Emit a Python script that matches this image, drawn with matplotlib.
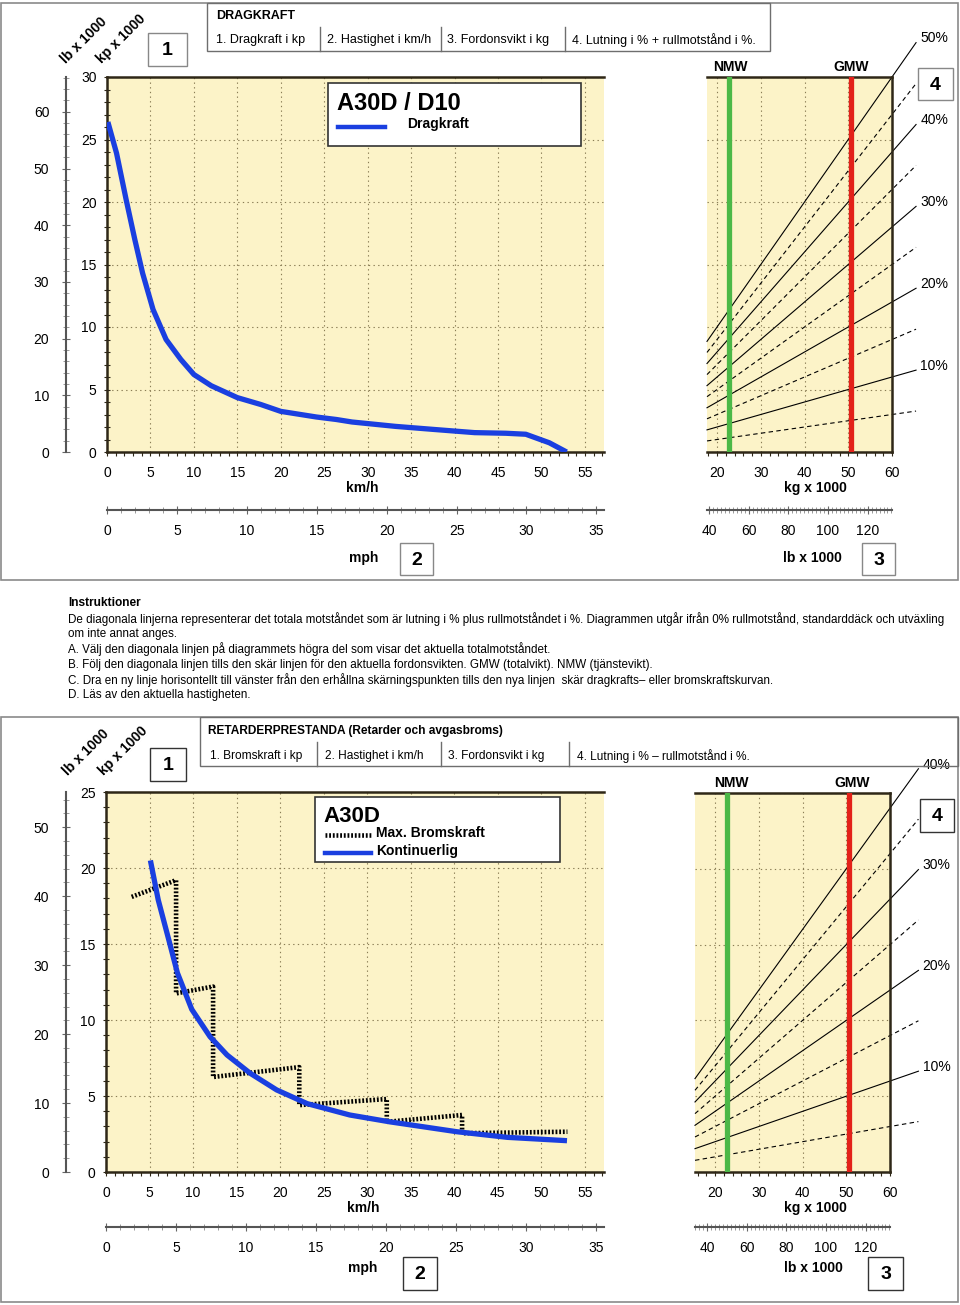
import numpy as np
import matplotlib
matplotlib.use("Agg")
import matplotlib.pyplot as plt
from matplotlib.patches import Rectangle
from matplotlib.lines import Line2D
from matplotlib.ticker import MultipleLocator, FixedLocator

# ---- data ----
drag_kmh = [0.1, 1.1, 2.2, 3.2, 4.1, 5.3, 6.8, 8.5, 10.0, 12.0, 15.0, 17.7, 20.0,
            24.1, 26.4, 28.2, 33.2, 37.7, 42.3, 45.9, 48.2, 50.9, 52.9]
drag_kp = [26.4, 23.9, 20.2, 17.0, 14.3, 11.4, 9.0, 7.4, 6.2, 5.3, 4.35, 3.8, 3.25,
           2.8, 2.6, 2.4, 2.05, 1.8, 1.55, 1.5, 1.42, 0.74, 0.0]

kont_kmh = [5.1, 6.0, 7.2, 8.2, 9.85, 11.95, 13.9, 16.55, 19.6, 23.1, 28.0, 32.6, 40.3, 46.1, 52.95]
kont_kp = [20.5, 17.9, 15.3, 13.1, 10.7, 8.9, 7.7, 6.5, 5.4, 4.5, 3.75, 3.3, 2.65, 2.28, 2.06]

maxb_kmh = [2.95, 8.05, 8.05, 12.3, 12.3, 22.2, 22.2, 32.25, 32.25, 40.9, 40.9, 53.0]
maxb_kp = [18.1, 19.2, 11.75, 12.2, 6.25, 6.9, 4.4, 4.8, 3.3, 3.75, 2.55, 2.65]

top_solid = [10, 20, 30, 40, 50]
top_dashed = [5, 15, 25, 35, 45]
bot_solid = [10, 20, 30, 40]
bot_dashed = [5, 15, 25, 35]
NMW, GMW = 22.7, 50.7

lb_ticks_top = [0, 10, 20, 30, 40, 50, 60]
lb_ticks_bot = [0, 10, 20, 30, 40, 50]
mph_ticks = [0, 5, 10, 15, 20, 25, 30, 35]
lbw_ticks = [40, 60, 80, 100, 120]

hdr_top = ["1. Dragkraft i kp", "2. Hastighet i km/h", "3. Fordonsvikt i kg",
           "4. Lutning i % + rullmotstånd i %."]
hdr_bot = ["1. Bromskraft i kp", "2. Hastighet i km/h", "3. Fordonsvikt i kg",
           "4. Lutning i % – rullmotstånd i %."]
instr = [
    "De diagonala linjerna representerar det totala motståndet som är lutning i % plus rullmotståndet i %. Diagrammen utgår ifrån 0% rullmotstånd, standarddäck och utväxling",
    "om inte annat anges.",
    "A. Välj den diagonala linjen på diagrammets högra del som visar det aktuella totalmotståndet.",
    "B. Följ den diagonala linjen tills den skär linjen för den aktuella fordonsvikten. GMW (totalvikt). NMW (tjänstevikt).",
    "C. Dra en ny linje horisontellt till vänster från den erhållna skärningspunkten tills den nya linjen  skär dragkrafts– eller bromskraftskurvan.",
    "D. Läs av den aktuella hastigheten.",
]

KP2LB = 2.20462
KMH2MPH = 1 / 1.609344

YELLOW = "#fcf3c8"
DARK = "#2e2717"
GRIDC = "#8a7d55"
BLUE = "#1a3fe0"
GREEN = "#4cb847"
RED = "#e32119"

plt.rcParams["font.family"] = ["Liberation Sans", "DejaVu Sans"]
plt.rcParams["font.size"] = 10

W, H = 960, 1305
fig = plt.figure(figsize=(W / 100, H / 100), dpi=100)
fig.patch.set_facecolor("white")


def fx(x):
    return x / W


def fy(y):
    return 1 - y / H


def pax(x0, y0, x1, y1):
    return fig.add_axes([x0 / W, 1 - y1 / H, (x1 - x0) / W, (y1 - y0) / H])


def box(x0, y0, x1, y1, ec="#777777", lw=1.0, fc="none", z=5):
    fig.add_artist(Rectangle((fx(x0), fy(y1)), (x1 - x0) / W, (y1 - y0) / H,
                             transform=fig.transFigure, fc=fc, ec=ec, lw=lw, zorder=z))


def fline(x0, y0, x1, y1, **kw):
    kw.setdefault("zorder", 6)
    fig.add_artist(Line2D([fx(x0), fx(x1)], [fy(y0), fy(y1)], transform=fig.transFigure, **kw))


def txt(x, y, s, **kw):
    kw.setdefault("va", "center")
    fig.text(fx(x), fy(y), s, zorder=7, **kw)


def numbox(x0, y0, x1, y1, s, ec="#888888"):
    box(x0, y0, x1, y1, ec=ec, lw=1.0, fc="white")
    txt((x0 + x1) / 2, (y0 + y1) / 2 + 1, s, ha="center", fontsize=14, fontweight="bold")


def style(ax, xlim, ylim, xmaj, xmin, ymaj, ymin, spines, ylabels):
    ax.set_facecolor(YELLOW)
    ax.set_xlim(*xlim)
    ax.set_ylim(*ylim)
    for s in ["left", "right", "top", "bottom"]:
        ax.spines[s].set_visible(s in spines)
        ax.spines[s].set_color(DARK)
        ax.spines[s].set_linewidth(1.8)
    ax.xaxis.set_major_locator(MultipleLocator(xmaj))
    ax.xaxis.set_minor_locator(MultipleLocator(xmin))
    ax.yaxis.set_major_locator(MultipleLocator(ymaj))
    ax.yaxis.set_minor_locator(MultipleLocator(ymin))
    ax.grid(True, which="major", color=GRIDC, lw=0.8, ls=(0, (1.2, 3)))
    ax.tick_params(axis="x", which="both", direction="out", length=3, width=0.8,
                   color=DARK, pad=7, labelsize=10)
    if ylabels:
        ax.tick_params(axis="y", which="both", direction="inout", length=5, width=0.8,
                       color=DARK, pad=5, labelsize=10)
    else:
        ax.tick_params(axis="y", which="both", length=0, labelleft=False)


def sec_style(sec, axis, ticks, mino, pad):
    spine = "left" if axis == "y" else "bottom"
    sec.spines[spine].set_color("#555555")
    sec.spines[spine].set_linewidth(1.5)
    a = sec.yaxis if axis == "y" else sec.xaxis
    a.set_major_locator(FixedLocator(ticks))
    a.set_minor_locator(MultipleLocator(mino))
    sec.tick_params(which="major", direction="inout", length=6, width=0.8,
                    color="#666666", pad=pad, labelsize=10)
    sec.tick_params(which="minor", direction="inout", length=4, width=0.6, color="#888888")


def grade_lines(ax, solid, dashed, x0, x1, text_dy):
    xs = np.array([x0, x1])
    for p in dashed:
        ax.plot(xs, xs * p / 100, color="black", lw=0.8, ls=(0, (4, 3)), clip_on=False, zorder=2)
    for p in solid:
        ax.plot(xs, xs * p / 100, color="black", lw=0.8, clip_on=False, zorder=2)
        ax.annotate(f"{p}%", (x1, x1 * p / 100), xytext=(3, text_dy), textcoords="offset points",
                    ha="left", va="center", fontsize=10, annotation_clip=False)
    ax.axvline(NMW, color=GREEN, lw=3.8, zorder=3)
    ax.axvline(GMW, color=RED, lw=3.8, zorder=3)


# =================== TOP PANEL ===================
box(1, 3, 958, 580, ec="#8a8a8a", lw=1.2, z=1)
box(207, 3, 770, 51, ec="#6e6e6e", lw=1.0)
for xs in [320, 441, 565]:
    fline(xs, 27, xs, 51, color="#6e6e6e", lw=1.0)
txt(216, 16, "DRAGKRAFT", fontsize=9, fontweight="bold")
for xs, s in zip([216, 327, 447, 572], hdr_top):
    txt(xs, 40, s, fontsize=9)
numbox(148, 33, 187, 66, "1")
txt(84, 40, "lb x 1000", ha="center", rotation=45, fontsize=10, fontweight="bold")
txt(121, 39, "kp x 1000", ha="center", rotation=45, fontsize=10, fontweight="bold")

ax1 = pax(107, 77, 604, 452)
style(ax1, (0, 57.2), (0, 30), 5, 1, 5, 1, ["left", "top", "bottom"], True)
ax1.plot(drag_kmh, drag_kp, color=BLUE, lw=3.8, solid_capstyle="butt", zorder=4)
lb1 = ax1.secondary_yaxis(-0.0825, functions=(lambda k: k * KP2LB, lambda l: l / KP2LB))
sec_style(lb1, "y", lb_ticks_top, 2, 9)
mph1 = ax1.secondary_xaxis(-0.1547, functions=(lambda k: k * KMH2MPH, lambda m: m / KMH2MPH))
sec_style(mph1, "x", mph_ticks, 1, 7)

box(328, 83, 581, 146, ec="#333333", lw=1.2, fc="white")
txt(337, 103, "A30D / D10", fontsize=17, fontweight="bold")
fline(338, 127, 385, 127, color=BLUE, lw=3.2)
txt(407, 124, "Dragkraft", fontsize=10, fontweight="bold")
txt(362, 488, "km/h", ha="center", fontsize=10, fontweight="bold")
txt(364, 558, "mph", ha="center", fontsize=10, fontweight="bold")
numbox(400, 543, 433, 575, "2")

ax2 = pax(707, 77, 892, 452)
style(ax2, (17.7, 60), (0, 30), 10, 2, 5, 1, ["right", "top", "bottom"], False)
grade_lines(ax2, top_solid, top_dashed, 17.7, 65.5, 3)
lb2 = ax2.secondary_xaxis(-0.1547, functions=(lambda k: k * KP2LB, lambda l: l / KP2LB))
sec_style(lb2, "x", lbw_ticks, 2, 7)
txt(730, 67, "NMW", ha="center", fontsize=10, fontweight="bold")
txt(851, 67, "GMW", ha="center", fontsize=10, fontweight="bold")
numbox(918, 68, 953, 100, "4")
txt(815, 488, "kg x 1000", ha="center", fontsize=10, fontweight="bold")
txt(812, 558, "lb x 1000", ha="center", fontsize=10, fontweight="bold")
numbox(862, 543, 895, 575, "3")

# =================== INSTRUCTIONS ===================
txt(68, 603, "Instruktioner", fontsize=8.6, fontweight="bold")
for i, line in enumerate(instr):
    txt(68, 619 + i * 15.2, line, fontsize=8.4)

# =================== BOTTOM PANEL ===================
box(1, 717, 958, 1302, ec="#8a8a8a", lw=1.2, z=1)
box(200, 717, 958, 766, ec="#6e6e6e", lw=1.0)
for xs in [317, 441, 569]:
    fline(xs, 742, xs, 766, color="#6e6e6e", lw=1.0)
txt(208, 731, "RETARDERPRESTANDA (Retarder och avgasbroms)", fontsize=8.6, fontweight="bold")
for xs, s in zip([210, 325, 448, 577], hdr_bot):
    txt(xs, 756, s, fontsize=8.6)
numbox(150, 748, 186, 781, "1", ec="#333333")
txt(86, 752, "lb x 1000", ha="center", rotation=45, fontsize=10, fontweight="bold")
txt(123, 751, "kp x 1000", ha="center", rotation=45, fontsize=10, fontweight="bold")

ax3 = pax(106, 792, 604, 1172)
style(ax3, (0, 57.2), (0, 25), 5, 1, 5, 1, ["left", "top", "bottom"], True)
ax3.plot(maxb_kmh, maxb_kp, color="black", lw=3.3, ls=(0, (0.4, 0.4)), zorder=4)
ax3.plot(kont_kmh, kont_kp, color=BLUE, lw=3.8, solid_capstyle="butt", zorder=5)
lb3 = ax3.secondary_yaxis(-0.0803, functions=(lambda k: k * KP2LB, lambda l: l / KP2LB))
sec_style(lb3, "y", lb_ticks_bot, 2, 9)
mph3 = ax3.secondary_xaxis(-0.1447, functions=(lambda k: k * KMH2MPH, lambda m: m / KMH2MPH))
sec_style(mph3, "x", mph_ticks, 1, 7)

box(315, 797, 560, 862, ec="#333333", lw=1.2, fc="white")
txt(323, 817, "A30D", fontsize=16, fontweight="bold")
fline(325, 835, 371, 835, color="black", lw=3.3, ls=(0, (0.4, 0.4)))
txt(376, 833, "Max. Bromskraft", fontsize=10, fontweight="bold")
fline(325, 853, 371, 853, color=BLUE, lw=3.2)
txt(376, 851, "Kontinuerlig", fontsize=10, fontweight="bold")
txt(363, 1208, "km/h", ha="center", fontsize=10, fontweight="bold")
txt(363, 1268, "mph", ha="center", fontsize=10, fontweight="bold")
numbox(403, 1257, 437, 1290, "2", ec="#333333")

ax4 = pax(695, 793, 890, 1172)
style(ax4, (15.4, 60), (0, 25), 10, 2, 5, 1, ["right", "top", "bottom"], False)
grade_lines(ax4, bot_solid, bot_dashed, 15.4, 66.5, 3)
lb4 = ax4.secondary_xaxis(-0.1447, functions=(lambda k: k * KP2LB, lambda l: l / KP2LB))
sec_style(lb4, "x", lbw_ticks, 2, 7)
txt(731, 783, "NMW", ha="center", fontsize=10, fontweight="bold")
txt(852, 783, "GMW", ha="center", fontsize=10, fontweight="bold")
numbox(920, 799, 954, 832, "4", ec="#333333")
txt(815, 1208, "kg x 1000", ha="center", fontsize=10, fontweight="bold")
txt(813, 1268, "lb x 1000", ha="center", fontsize=10, fontweight="bold")
numbox(868, 1257, 903, 1290, "3", ec="#333333")

fig.savefig("out.png", dpi=100, facecolor="white")
